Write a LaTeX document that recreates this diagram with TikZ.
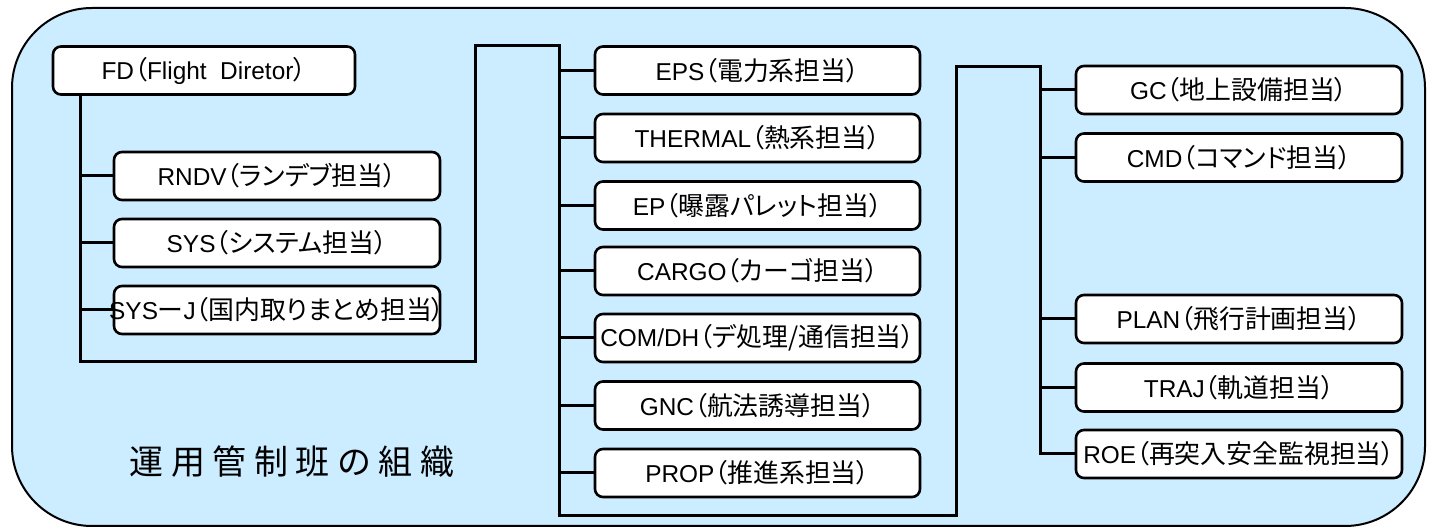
\documentclass[tikz,border=0pt]{standalone}
\usepackage{fontspec}
\setmainfont{Liberation Sans}
\newfontfamily\jp[RawFeature=+palt,Scale=1.06]{Noto Sans CJK JP}
\newfontfamily\ttlfont[LetterSpace=22]{Noto Sans CJK JP}
\definecolor{bgblue}{RGB}{204,236,255}
\begin{document}
\begin{tikzpicture}[x=0.5pt,y=-0.5pt,
  role/.style={draw=black, line width=1.3pt, fill=white, rounded corners=4pt,
    minimum height=24pt, inner sep=0pt, font=\fontsize{12.2}{14}\selectfont},
  wfd/.style={role, minimum width=151pt},
  wl/.style={role, minimum width=163pt},
  wc/.style={role, minimum width=162.5pt},
  wr/.style={role, minimum width=163pt},
  conn/.style={draw=black, line width=1.5pt},
  frame/.style={draw=black, line width=1pt, fill=bgblue, rounded corners=40pt}]
\useasboundingbox (0,0) rectangle (1434,528);
\draw[frame] (12,8) rectangle (1425,526);

% left group
\node[wfd] (fd) at (204,70.5) {FD{\jp （}Flight\ \ Diretor{\jp ）}};
\node[wl] (rndv) at (277,176) {RNDV{\jp （ランデブ担当）}};
\node[wl] (sys) at (277,243) {SYS{\jp （システム担当）}};
\node[wl] (sysj) at (277,310) {\makebox[0pt]{SYS{\jp ー}J{\jp （国内取りまとめ担当）}}};

% center group
\node[wc] (eps) at (757.5,70.5) {EPS{\jp （電力系担当）}};
\node[wc] (thermal) at (757.5,138) {THERMAL{\jp （熱系担当）}};
\node[wc] (ep) at (757.5,205.5) {EP{\jp （曝露パレット担当）}};
\node[wc] (cargo) at (757.5,271) {CARGO{\jp （カーゴ担当）}};
\node[wc] (comdh) at (757.5,338) {COM/DH{\jp （デ処理/通信担当）}};
\node[wc] (gnc) at (757.5,405.5) {GNC{\jp （航法誘導担当）}};
\node[wc] (prop) at (757.5,473) {PROP{\jp （推進系担当）}};

% right group
\node[wr] (gc) at (1239,90) {GC{\jp （地上設備担当）}};
\node[wr] (cmd) at (1239,157.5) {CMD{\jp （コマンド担当）}};
\node[wr] (plan) at (1239,319) {PLAN{\jp （飛行計画担当）}};
\node[wr] (traj) at (1239,387.5) {TRAJ{\jp （軌道担当）}};
\node[wr] (roe) at (1239,454) {ROE{\jp （再突入安全監視担当）}};

% title
\node[font=\fontsize{17}{20}\selectfont\ttlfont] (title) at (292,462) {運用管制班の組織};

% connector skeleton
\coordinate (fdv) at (80,95);
\coordinate (k1) at (80,362);
\coordinate (k2) at (475,362);
\coordinate (k3) at (475,46);
\coordinate (cv) at (559,46);
\coordinate (k4) at (559,516);
\coordinate (k5) at (956,516);
\coordinate (k6) at (956,67);
\coordinate (rv) at (1040,67);

\draw[conn] (fdv) -- (k1) -- (k2) -- (k3) -- (cv) -- (k4) -- (k5) -- (k6) -- (rv) |- (roe.west);

\foreach \n in {rndv,sys,sysj} \draw[conn] (\n.west -| fdv) -- (\n.west);
\foreach \n in {eps,thermal,ep,cargo,comdh,gnc,prop} \draw[conn] (\n.west -| cv) -- (\n.west);
\foreach \n in {gc,cmd,plan,traj} \draw[conn] (\n.west -| rv) -- (\n.west);
\end{tikzpicture}
\end{document}
